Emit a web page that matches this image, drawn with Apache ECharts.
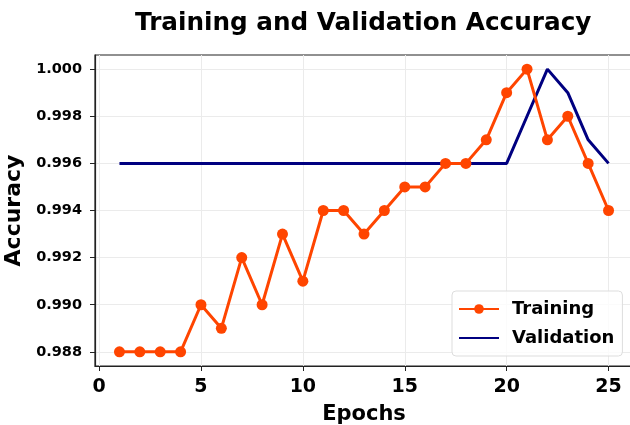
<!DOCTYPE html>
<html>
<head>
<meta charset="utf-8">
<script src="https://cdn.jsdelivr.net/npm/echarts@6/dist/echarts.min.js"></script>
<style>
html, body { margin: 0; padding: 0; background: #fff; }
#main { width: 630px; height: 425px; }
</style>
</head>
<body>
<div id="main"></div>
<script>
// epochs 1..25
var epochs = [1,2,3,4,5,6,7,8,9,10,11,12,13,14,15,16,17,18,19,20,21,22,23,24,25];
var train_acc = [0.988,0.988,0.988,0.988,0.990,0.989,0.992,0.990,0.993,0.991,0.994,0.994,0.993,
                 0.994,0.995,0.995,0.996,0.996,0.997,0.999,1.000,0.997,0.998,0.996,0.994];
var val_acc = [0.996,0.996,0.996,0.996,0.996,0.996,0.996,0.996,0.996,0.996,0.996,0.996,0.996,
               0.996,0.996,0.996,0.996,0.996,0.996,0.996,0.998,1.000,0.999,0.997,0.996];
var x_ticks = [0,5,10,15,20,25];
var y_ticks = [0.988,0.990,0.992,0.994,0.996,0.998,1.000];

function pairs(xs, ys) {
    var out = [];
    for (var i = 0; i < xs.length; i++) {
        out.push([xs[i], ys[i]]);
    }
    return out;
}

var chart = echarts.init(document.getElementById('main'));
var option = {
    animation: false,
    title: {
        text: 'Training and Validation Accuracy',
        left: 135,
        top: 11,
        padding: 0,
        textStyle: { fontFamily: 'DejaVu Sans', fontWeight: 'bold', fontSize: 24.7, color: '#000' }
    },
    grid: {
        left: 95,
        right: -3,
        top: 55,
        bottom: 59,
        outerBoundsMode: 'none',
        containLabel: false,
        show: true,
        borderColor: '#222',
        borderWidth: 1.2
    },
    legend: {
        left: 452,
        top: 291,
        orient: 'vertical',
        itemWidth: 40,
        itemHeight: 12,
        itemGap: 9,
        padding: [8, 8, 8, 6],
        borderColor: '#ddd',
        borderWidth: 1,
        borderRadius: 4,
        backgroundColor: 'rgba(255,255,255,0.8)',
        textStyle: {
            fontFamily: 'DejaVu Sans', fontWeight: 'bold', fontSize: 18, color: '#000',
            lineHeight: 20, padding: [0, 0, 0, 8]
        },
        data: [
            { name: 'Training' },
            { name: 'Validation', itemStyle: { opacity: 0 } }
        ]
    },
    xAxis: {
        type: 'value',
        min: -0.2,
        max: 26.2,
        name: 'Epochs',
        nameLocation: 'middle',
        nameGap: 38,
        nameTextStyle: { fontFamily: 'DejaVu Sans', fontWeight: 'bold', fontSize: 21, color: '#000' },
        axisLine: { show: true, onZero: false, lineStyle: { color: '#222', width: 1.2 } },
        axisTick: { show: true, length: 5, customValues: x_ticks, lineStyle: { color: '#222' } },
        axisLabel: {
            customValues: x_ticks,
            margin: 12,
            fontFamily: 'DejaVu Sans', fontWeight: 'bold', fontSize: 19, color: '#000'
        },
        splitLine: { show: true, lineStyle: { color: '#ebebeb', width: 1 } }
    },
    yAxis: {
        type: 'value',
        min: 0.9874,
        max: 1.0006,
        name: 'Accuracy',
        nameLocation: 'middle',
        nameGap: 62,
        nameTextStyle: { fontFamily: 'DejaVu Sans', fontWeight: 'bold', fontSize: 22, color: '#000' },
        axisLine: { show: true, onZero: false, lineStyle: { color: '#222', width: 1.2 } },
        axisTick: { show: true, length: 5, customValues: y_ticks, lineStyle: { color: '#222' } },
        axisLabel: {
            customValues: y_ticks,
            margin: 13,
            formatter: function (v) { return v.toFixed(3); },
            fontFamily: 'DejaVu Sans', fontWeight: 'bold', fontSize: 14.5, color: '#000'
        },
        splitLine: { show: true, lineStyle: { color: '#ebebeb', width: 1 } }
    },
    series: [
        {
            name: 'Training',
            type: 'line',
            data: pairs(epochs, train_acc),
            symbol: 'circle',
            symbolSize: 11,
            color: '#ff4500',
            lineStyle: { width: 3, color: '#ff4500' },
            itemStyle: { color: '#ff4500' },
            z: 3
        },
        {
            name: 'Validation',
            type: 'line',
            data: pairs(epochs, val_acc),
            symbol: 'none',
            color: '#000080',
            lineStyle: { width: 3, color: '#000080' },
            z: 2
        }
    ]
};
chart.setOption(option);
</script>
</body>
</html>
